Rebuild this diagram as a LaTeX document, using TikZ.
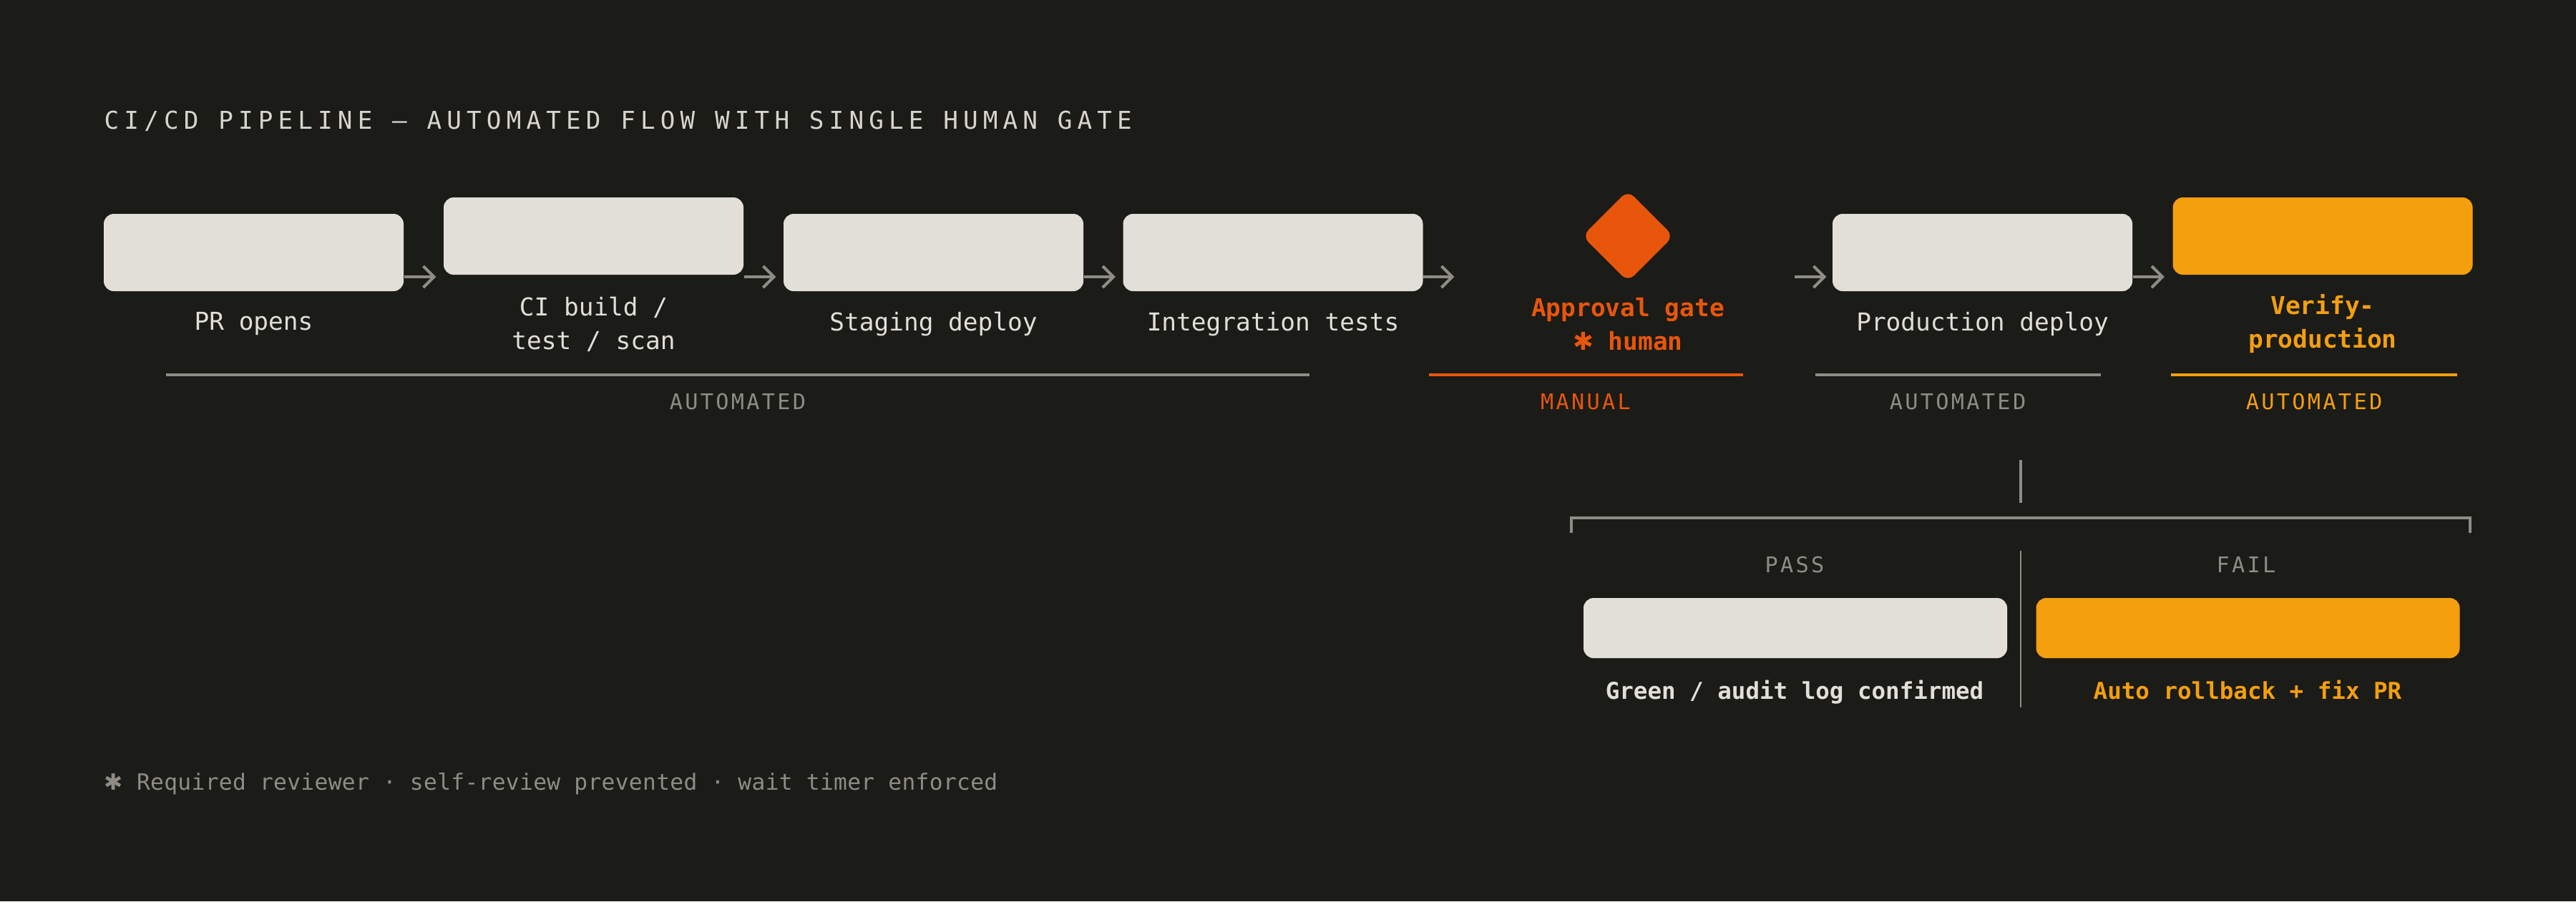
\documentclass[tikz,border=0pt]{standalone}
\usepackage{fontspec}
\usepackage{xcolor}
\usepackage{tikz}
\usetikzlibrary{shapes.geometric, arrows.meta, positioning}
\setmainfont{DejaVu Sans Mono}
\newfontfamily\symb{DejaVu Sans}
\newfontfamily\widetrack[LetterSpace=20.8]{DejaVu Sans Mono}
\newfontfamily\tagtrack[LetterSpace=11]{DejaVu Sans Mono}
\newfontfamily\softtrack[LetterSpace=1]{DejaVu Sans Mono}
\definecolor{bg}{HTML}{1B1B18}
\definecolor{chalk}{HTML}{E2DED8}
\definecolor{titlegrey}{HTML}{D8D4CC}
\definecolor{rulegrey}{HTML}{8E8C85}
\definecolor{gateorange}{HTML}{E8560C}
\definecolor{amber}{HTML}{F39F0E}
\newcommand{\gatemark}{{\symb ✱}}

\begin{document}
\begin{tikzpicture}[x=1cm, y=-1cm,
		stage/.style={rectangle, rounded corners=0.14cm, fill=chalk, minimum width=4.19cm, minimum height=1.08cm, inner sep=0pt},
		outcome/.style={rectangle, rounded corners=0.14cm, fill=chalk, minimum width=5.92cm, minimum height=0.84cm, inner sep=0pt},
		gatediamond/.style={diamond, rounded corners=0.12cm, fill=gateorange, minimum width=1.28cm, minimum height=1.28cm, inner sep=0pt},
		steplabel/.style={font=\fontsize{9.8}{13.4}\selectfont, text=chalk, align=center},
		boldlabel/.style={steplabel, font=\fontsize{9.8}{13.4}\selectfont\bfseries},
		tag/.style={font=\tagtrack\fontsize{8.6}{10}\selectfont, text=rulegrey, anchor=base, inner sep=0pt},
		result/.style={font=\fontsize{9.25}{11}\selectfont\bfseries, text=chalk, anchor=base, inner sep=0pt},
		flow/.style={draw=rulegrey, line width=0.04cm, -{Straight Barb[length=0.15cm, width=0.3cm]}},
		phase/.style={draw=rulegrey, line width=0.035cm},
		bracket/.style={draw=rulegrey, line width=0.04cm},
		divider/.style={draw=rulegrey, line width=0.025cm}]

	\fill[bg] (0,0) rectangle (36,12.6);

	\node[anchor=base west, inner sep=0pt, text=titlegrey, font=\widetrack\fontsize{9.76}{12}\selectfont] (title) at (1.45,1.80) {CI/CD PIPELINE — AUTOMATED FLOW WITH SINGLE HUMAN GATE};

	\node[stage] (pr) at (3.545,3.53) {};
	\node[stage] (ci) at (8.295,3.30) {};
	\node[stage] (stg) at (13.045,3.53) {};
	\node[stage] (integ) at (17.79,3.53) {};
	\node[gatediamond] (gate) at (22.75,3.30) {};
	\node[stage] (prod) at (27.705,3.53) {};
	\node[stage, fill=amber] (verify) at (32.46,3.30) {};

	\coordinate (rail) at (0,3.87);
	\coordinate (lab) at (0,4.53);

	\draw[flow, shorten >=0.1cm] (pr.east |- rail) -- (ci.west |- rail);
	\draw[flow, shorten >=0.1cm] (ci.east |- rail) -- (stg.west |- rail);
	\draw[flow, shorten >=0.1cm] (stg.east |- rail) -- (integ.west |- rail);
	\draw[flow, shorten >=1.78cm] (integ.east |- rail) -- (gate.west |- rail);
	\draw[flow, shorten <=1.68cm, shorten >=0.08cm] (gate.east |- rail) -- (prod.west |- rail);
	\draw[flow, shorten >=0.11cm] (prod.east |- rail) -- (verify.west |- rail);

	\node[steplabel] (pr-text) at (pr |- lab) {PR opens};
	\node[steplabel] (ci-text) at (ci |- lab) {CI build /\\test / scan};
	\node[steplabel] (stg-text) at (stg |- lab) {Staging deploy};
	\node[steplabel] (integ-text) at (integ |- lab) {Integration tests};
	\node[boldlabel, text=gateorange] (gate-text) at (gate |- lab) {Approval gate\\\gatemark{} human};
	\node[steplabel] (prod-text) at (prod |- lab) {Production deploy};
	\node[boldlabel, text=amber] (verify-text) at (verify |- lab) {Verify-\\production};

	\draw[phase] (2.32,5.24) -- (18.30,5.24);
	\node[tag] (auto-a) at (10.31,5.72) {AUTOMATED};
	\draw[phase, draw=gateorange] (19.97,5.24) -- (24.36,5.24);
	\node[tag, text=gateorange] (manual) at (22.16,5.72) {MANUAL};
	\draw[phase] (25.37,5.24) -- (29.36,5.24);
	\node[tag] (auto-b) at (27.36,5.72) {AUTOMATED};
	\draw[phase, draw=amber] (30.34,5.24) -- (34.34,5.24);
	\node[tag, text=amber] (auto-c) at (32.34,5.72) {AUTOMATED};

	\coordinate (stem) at (28.24,6.43);
	\coordinate (brace) at (28.24,7.03);
	\draw[bracket] (stem) -- (brace);
	\draw[bracket] (21.96,7.45) -- (21.96,7.24) -- (34.52,7.24) -- (34.52,7.45);
	\draw[divider] (28.24,7.70) -- (28.24,9.89);

	\node[tag] (pass-tag) at (25.08,8.00) {PASS};
	\node[tag] (fail-tag) at (31.39,8.00) {FAIL};
	\node[outcome] (pass) at (25.09,8.78) {};
	\node[outcome, fill=amber] (fail) at (31.415,8.78) {};
	\node[result] (pass-text) at (25.08,9.77) {Green / audit log confirmed};
	\node[result, text=amber] (fail-text) at (31.41,9.77) {Auto rollback + fix PR};

	\node[anchor=base west, inner sep=0pt, text=rulegrey, font=\softtrack\fontsize{8.9}{11}\selectfont] (note) at (1.45,11.04) {\gatemark{} Required reviewer · self-review prevented · wait timer enforced};
\end{tikzpicture}
\end{document}
